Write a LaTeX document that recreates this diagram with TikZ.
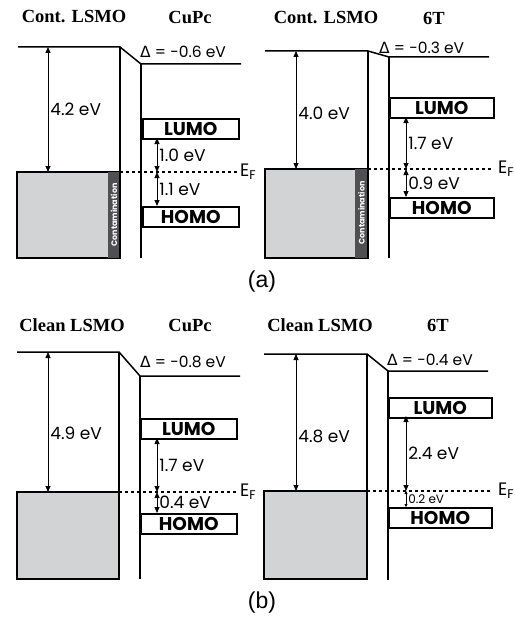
\documentclass[tikz,border=0pt]{standalone}
\usepackage{fontspec}
\setmainfont{Liberation Sans}
\newfontfamily\headfont{Liberation Serif}
\newfontfamily\labfont{Poppins}
\newfontfamily\deltafont{DejaVu Sans}
\usetikzlibrary{arrows.meta}
\definecolor{lsmogray}{RGB}{209,211,212}
\definecolor{contgray}{RGB}{80,80,82}
\tikzset{
  level/.style={line width=1.5pt},
  lsmo/.style={draw, line width=1.5pt, fill=lsmogray},
  fermi/.style={line width=1.2pt, dash pattern=on 3pt off 3pt},
  gap/.style={line width=0.8pt, {Triangle[length=6pt,width=5pt]}-{Triangle[length=6pt,width=5pt]}},
  smallgap/.style={line width=0.7pt, {Triangle[length=3pt,width=3pt]}-{Triangle[length=3pt,width=3pt]}},
  orbital/.style={draw, line width=1.5pt, fill=white, anchor=north west, minimum width=96pt,
    minimum height=20pt, inner sep=0pt, font=\labfont\bfseries\fontsize{18.5}{18}\selectfont},
  head/.style={font=\headfont\bfseries\fontsize{18.5}{18}\selectfont},
  lab/.style={font=\labfont\fontsize{17}{17}\selectfont, anchor=west, inner sep=2pt},
  ef/.style={font=\labfont\fontsize{18}{18}\selectfont, anchor=west, inner sep=2pt},
  dlab/.style={font=\labfont\fontsize{15.5}{16}\selectfont, anchor=west, inner sep=2pt},
  cont/.style={rotate=90, text=white, font=\labfont\bfseries\fontsize{8}{8}\selectfont, inner sep=0pt}
}
\begin{document}
\begin{tikzpicture}[x=1pt,y=-1pt]
\useasboundingbox (0,0) rectangle (514,618);

% (a) contaminated LSMO / CuPc
\node[head] (caHeadL) at (74,17) {Cont. LSMO};
\node[head] (caHeadR) at (190,17) {CuPc};
\draw[lsmo] (17,172) rectangle (120,258);
\fill[contgray] (108,172) rectangle (120,258);
\node[cont] (caCont) at (114,215) {Contamination};
\draw[level] (18,47) -- (120,47) -- (141,64) -- (241,64);
\draw[level] (120,47) -- (120,258);
\draw[level] (141,64) -- (141,258);
\coordinate (caEFl) at (120,172);
\coordinate (caEFr) at (238,172);
\draw[fermi] (caEFl) -- (caEFr);
\node[ef] (caEF) at (caEFr) {E\textsubscript{F}};
\node[dlab] (caDelta) at (138,52) {{\deltafont Δ} = -0.6 eV};
\node[orbital] (caLumo) at (142,118) {LUMO};
\node[orbital] (caHomo) at (142,206) {HOMO};
\coordinate (caVac) at (48,47);
\coordinate (caWf) at (48,172);
\draw[gap] (caVac) -- (caWf) node[lab, midway] {4.2 eV};
\coordinate (caL) at (157,138);
\coordinate (caF) at (157,172);
\coordinate (caH) at (157,206);
\draw[gap] (caL) -- (caF) node[lab, midway] {1.0 eV};
\draw[gap] (caF) -- (caH) node[lab, midway] {1.1 eV};

% (a) contaminated LSMO / 6T
\node[head] (taHeadL) at (326,18) {Cont. LSMO};
\node[head] (taHeadR) at (434,18) {6T};
\draw[lsmo] (265,169) rectangle (368,258);
\fill[contgray] (355,169) rectangle (368,258);
\node[cont] (taCont) at (361.5,213) {Contamination};
\draw[level] (265,51) -- (368,51) -- (389,57) -- (489,57);
\draw[level] (368,51) -- (368,258);
\draw[level] (389,57) -- (389,258);
\coordinate (taEFl) at (368,169);
\coordinate (taEFr) at (491,169);
\draw[fermi] (taEFl) -- (taEFr);
\node[ef] (taEF) at (496,169) {E\textsubscript{F}};
\node[dlab] (taDelta) at (377,48) {{\deltafont Δ} = -0.3 eV};
\node[orbital, minimum width=104pt] (taLumo) at (389,97) {LUMO};
\node[orbital, minimum width=104pt] (taHomo) at (389,197) {HOMO};
\coordinate (taVac) at (296,51);
\coordinate (taWf) at (296,169);
\draw[gap] (taVac) -- (taWf) node[lab, pos=0.53] {4.0 eV};
\coordinate (taL) at (406,117);
\coordinate (taF) at (406,169);
\coordinate (taH) at (406,197);
\draw[gap] (taL) -- (taF) node[lab, midway] {1.7 eV};
\draw[gap] (taF) -- (taH) node[lab, midway] {0.9 eV};

\node[font=\fontsize{23}{23}\selectfont] (capA) at (262,282) {(a)};

% (b) clean LSMO / CuPc
\node[head] (cbHeadL) at (72,325) {Clean LSMO};
\node[head] (cbHeadR) at (190,325) {CuPc};
\draw[lsmo] (17,492) rectangle (119,579);
\draw[level] (17,352) -- (119,352) -- (140,376) -- (240,376);
\draw[level] (119,352) -- (119,579);
\draw[level] (140,376) -- (140,579);
\coordinate (cbEFl) at (119,492);
\coordinate (cbEFr) at (238,492);
\draw[fermi] (cbEFl) -- (cbEFr);
\node[ef] (cbEF) at (cbEFr) {E\textsubscript{F}};
\node[dlab] (cbDelta) at (138,362) {{\deltafont Δ} = -0.8 eV};
\node[orbital] (cbLumo) at (140,418) {LUMO};
\node[orbital] (cbHomo) at (140,513) {HOMO};
\coordinate (cbVac) at (48,352);
\coordinate (cbWf) at (48,492);
\draw[gap] (cbVac) -- (cbWf) node[lab, pos=0.58] {4.9 eV};
\coordinate (cbL) at (157,438);
\coordinate (cbF) at (157,492);
\coordinate (cbH) at (157,513);
\draw[gap] (cbL) -- (cbF) node[lab, midway] {1.7 eV};
\draw[gap] (cbF) -- (cbH) node[lab, midway] {0.4 eV};

% (b) clean LSMO / 6T
\node[head] (tbHeadL) at (320,325) {Clean LSMO};
\node[head] (tbHeadR) at (438,325) {6T};
\draw[lsmo] (264,491) rectangle (367,579);
\draw[level] (264,354) -- (367,354) -- (388,371) -- (488,371);
\draw[level] (367,354) -- (367,579);
\draw[level] (388,371) -- (388,580);
\coordinate (tbEFl) at (367,491);
\coordinate (tbEFr) at (491,491);
\draw[fermi] (tbEFl) -- (tbEFr);
\node[ef] (tbEF) at (496,491) {E\textsubscript{F}};
\node[dlab] (tbDelta) at (385,360) {{\deltafont Δ} = -0.4 eV};
\node[orbital, minimum width=103pt] (tbLumo) at (388,397) {LUMO};
\node[orbital, minimum width=103pt] (tbHomo) at (388,507) {HOMO};
\coordinate (tbVac) at (296,354);
\coordinate (tbWf) at (296,491);
\draw[gap] (tbVac) -- (tbWf) node[lab, pos=0.6] {4.8 eV};
\coordinate (tbL) at (406,416);
\coordinate (tbF) at (406,491);
\coordinate (tbH) at (406,507);
\draw[gap] (tbL) -- (tbF) node[lab, midway] {2.4 eV};
\draw[smallgap] (tbF) -- (tbH) node[lab, midway, font=\labfont\fontsize{12}{12}\selectfont] {0.2 eV};

\node[font=\fontsize{23}{23}\selectfont] (capB) at (262,603) {(b)};
\end{tikzpicture}
\end{document}
